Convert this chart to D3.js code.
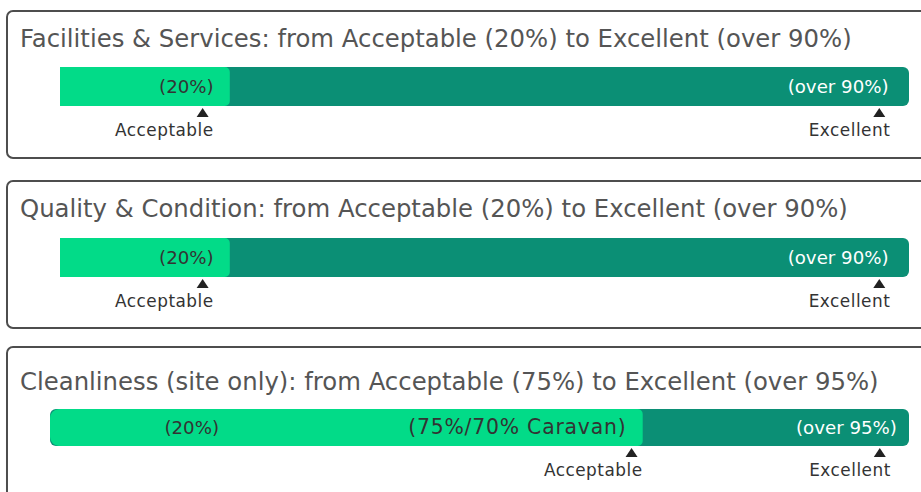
<!DOCTYPE html>
<html>
<head>
<meta charset="utf-8">
<script src="https://cdn.jsdelivr.net/npm/d3@7"></script>
<style>
  body { margin: 0; background: #fff; }
  svg { display: block; }
</style>
</head>
<body>
<div id="chart"></div>
<script>
// chart values
var titles = [
  "Facilities & Services: from Acceptable (20%) to Excellent (over 90%)",
  "Quality & Condition: from Acceptable (20%) to Excellent (over 90%)",
  "Cleanliness (site only): from Acceptable (75%) to Excellent (over 95%)"
];
// where the light (reached) part of each bar ends, in % of the bar
var lightEnd = [20, 20, 69];
// text written on each bar, with its place along the bar
var barLabels = [
  [{ text: "(20%)", at: 18.1, anchor: "end", light: true },
   { text: "(over 90%)", at: 97.6, anchor: "end", light: false }],
  [{ text: "(20%)", at: 18.1, anchor: "end", light: true },
   { text: "(over 90%)", at: 97.6, anchor: "end", light: false }],
  [{ text: "(20%)", at: 16.5, anchor: "middle", light: true },
   { text: "(75%/70% Caravan)", at: 54.4, anchor: "middle", light: true },
   { text: "(over 95%)", at: 98.6, anchor: "end", light: false }]
];
// marker arrows under each bar
var markers = [
  [{ name: "Acceptable", at: 16.8 }, { name: "Excellent", at: 96.5 }],
  [{ name: "Acceptable", at: 16.8 }, { name: "Excellent", at: 96.5 }],
  [{ name: "Acceptable", at: 67.7 }, { name: "Excellent", at: 96.6 }]
];

// layout
var W = 921, H = 492;
var panelTop = [11, 181, 347];
var panelH = [147, 147, 200];
var titleDy = [36, 36, 43];
var barDy = [56, 57, 62];
var barH = [39, 39, 37];
var barLeft = [60, 60, 50];
var barRight = 909;
var lightColor = "#02db88", darkColor = "#0b8f75";
var font = "'DejaVu Sans', sans-serif";

var svg = d3.select("#chart").append("svg")
  .attr("width", W).attr("height", H);

// rect with separate left / right corner radius
function roundRect(x, y, w, h, rl, rr) {
  var p = d3.path();
  p.moveTo(x + rl, y);
  p.lineTo(x + w - rr, y);
  if (rr) p.arcTo(x + w, y, x + w, y + rr, rr);
  p.lineTo(x + w, y + h - rr);
  if (rr) p.arcTo(x + w, y + h, x + w - rr, y + h, rr);
  p.lineTo(x + rl, y + h);
  if (rl) p.arcTo(x, y + h, x, y + h - rl, rl);
  p.lineTo(x, y + rl);
  if (rl) p.arcTo(x, y, x + rl, y, rl);
  p.closePath();
  return p.toString();
}

var titleSel = [], barTextSel = [], markTextSel = [];

titles.forEach(function(title, i) {
  var g = svg.append("g").attr("transform", "translate(0," + panelTop[i] + ")");
  var x = d3.scaleLinear().domain([0, 100]).range([barLeft[i], barRight]);
  var by = barDy[i], bh = barH[i];

  g.append("rect")
    .attr("x", 7).attr("y", 0)
    .attr("width", 940).attr("height", panelH[i])
    .attr("rx", 6)
    .attr("fill", "none")
    .attr("stroke", "#4d4d4d")
    .attr("stroke-width", 2);

  titleSel.push(g.append("text")
    .attr("x", 20).attr("y", titleDy[i])
    .attr("fill", "#555")
    .style("font-family", font)
    .text(title));

  // dark full bar
  g.append("path")
    .attr("d", roundRect(x(0), by, x(100) - x(0), bh, 6, 6))
    .attr("fill", darkColor);
  // light reached part
  g.append("path")
    .attr("d", roundRect(x(0), by, x(lightEnd[i]) - x(0), bh, i === 2 ? 9 : 0, 5))
    .attr("fill", lightColor);

  g.selectAll("text.bl")
    .data(barLabels[i])
    .enter().append("text")
    .attr("class", "bl")
    .attr("x", function(d) { return x(d.at); })
    .attr("y", by + bh / 2 + 6)
    .attr("text-anchor", function(d) { return d.anchor; })
    .attr("fill", function(d) { return d.light ? "#333" : "#fff"; })
    .style("font-family", font)
    .text(function(d) { return d.text; })
    .each(function() { barTextSel.push(this); });

  var m = g.selectAll("g.mk")
    .data(markers[i])
    .enter().append("g")
    .attr("class", "mk")
    .attr("transform", function(d) { return "translate(" + x(d.at) + "," + (by + bh) + ")"; });

  m.append("path")
    .attr("d", "M-6,11L6,11L0,2Z")
    .attr("fill", "#222");

  m.append("text")
    .attr("x", 11).attr("y", 30)
    .attr("text-anchor", "end")
    .attr("fill", "#333")
    .style("font-family", font)
    .style("letter-spacing", "0.5px")
    .text(function(d) { return d.name; })
    .each(function() { markTextSel.push(this); });
});

// size fonts so the text widths match the original
function fitSize(nodes, ref, target) {
  nodes.forEach(function(n) { d3.select(n).style("font-size", "20px"); });
  var w = ref.getComputedTextLength();
  var fs = 20 * target / w;
  nodes.forEach(function(n) { d3.select(n).style("font-size", fs + "px"); });
  return fs;
}
fitSize(titleSel.map(function(s) { return s.node(); }), titleSel[0].node(), 832);
var barFs = fitSize(barTextSel, barTextSel[1], 101);
// the long caravan label is set a little larger in the original
barTextSel.forEach(function(n) {
  if (n.textContent.length > 12) {
    d3.select(n).style("font-size", (barFs * 1.12) + "px").style("letter-spacing", "0.8px");
  }
});
fitSize(markTextSel, markTextSel[0], 98);
</script>
</body>
</html>
